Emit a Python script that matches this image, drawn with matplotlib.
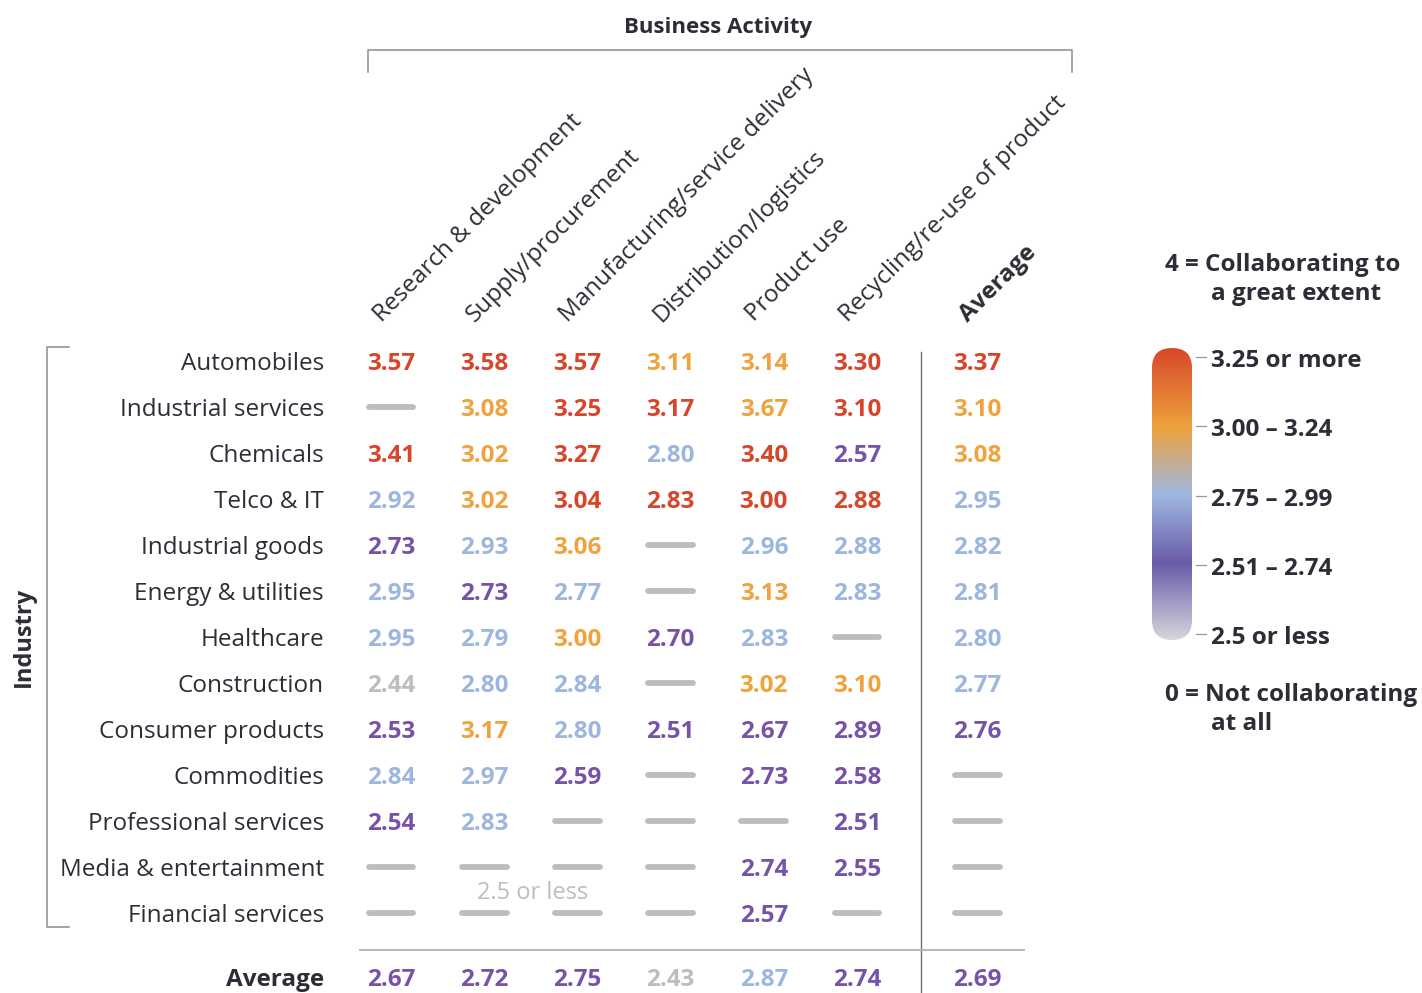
import numpy as np
import matplotlib
matplotlib.use('Agg')
import matplotlib.pyplot as plt
from matplotlib.colors import LinearSegmentedColormap
from matplotlib.patches import FancyBboxPatch

plt.rcParams['font.family'] = ['Open Sans', 'DejaVu Sans']

# Industries (rows) and business activities (columns)
industries = ['Automobiles', 'Industrial services', 'Chemicals', 'Telco & IT',
              'Industrial goods', 'Energy & utilities', 'Healthcare', 'Construction',
              'Consumer products', 'Commodities', 'Professional services',
              'Media & entertainment', 'Financial services']
activities = ['Research & development', 'Supply/procurement',
              'Manufacturing/service delivery', 'Distribution/logistics',
              'Product use', 'Recycling/re-use of product']

nan = np.nan
# mean collaboration score per industry and activity (nan = not enough answers)
scores = [
    [3.57, 3.58, 3.57, 3.11, 3.14, 3.30],
    [nan,  3.08, 3.25, 3.17, 3.67, 3.10],
    [3.41, 3.02, 3.27, 2.80, 3.40, 2.57],
    [2.92, 3.02, 3.04, 2.83, 3.00, 2.88],
    [2.73, 2.93, 3.06, nan,  2.96, 2.88],
    [2.95, 2.73, 2.77, nan,  3.13, 2.83],
    [2.95, 2.79, 3.00, 2.70, 2.83, nan],
    [2.44, 2.80, 2.84, nan,  3.02, 3.10],
    [2.53, 3.17, 2.80, 2.51, 2.67, 2.89],
    [2.84, 2.97, 2.59, nan,  2.73, 2.58],
    [2.54, 2.83, nan,  nan,  nan,  2.51],
    [nan,  nan,  nan,  nan,  2.74, 2.55],
    [nan,  nan,  nan,  nan,  2.57, nan],
]
row_avg = [3.37, 3.10, 3.08, 2.95, 2.82, 2.81, 2.80, 2.77, 2.76, nan, nan, nan, nan]
col_avg = [2.67, 2.72, 2.75, 2.43, 2.87, 2.74]
total_avg = 2.69

# colour band of each printed value: r=3.25+, o=3.00-3.24, b=2.75-2.99, p=2.51-2.74, g=2.5-
bands = [
    'rrroorr',
    '-orroro',
    'rorbrpo',
    'borrrrb',
    'pbo-bbb',
    'bpb-obb',
    'bbopb-b',
    'gbb-oob',
    'pobpppp',
    'bbp-pp-',
    'pb---p-',
    '----pp-',
    '----p--',
]
avg_bands = 'pppgbpp'

legend_labels = ['3.25 or more', '3.00 \u2013 3.24', '2.75 \u2013 2.99',
                 '2.51 \u2013 2.74', '2.5 or less']

band_colors = {'r': '#D8452B', 'o': '#F0A23C', 'b': '#9DB6E0',
               'p': '#7653A8', 'g': '#BDBDC1'}
dash_color = '#BDBDC1'
ink = '#2D2D37'
rule = '#8C8C90'

W, H = 1422, 993
fig = plt.figure(figsize=(W / 100, H / 100), dpi=100)

# grid axes: x = column index, y = row index
ax = fig.add_axes([0, 0, 1, 1])
col_step, row_step = 93.2, 46.0
x0_px, y0_px = 391, 361
ax.set_xlim(-x0_px / col_step, (W - x0_px) / col_step)
ax.set_ylim((H - y0_px) / row_step, -y0_px / row_step)
ax.axis('off')

n_act = len(activities)
xpos = list(range(n_act)) + [n_act + 0.29]
avg_row_y = len(industries) + 0.40
dy = 0.06  # text centre sits a little above the visual middle


def cell(x, y, val, band):
    if np.isnan(val):
        ax.plot([x - 0.24, x + 0.24], [y, y], color=dash_color, lw=4.2,
                solid_capstyle='round')
    else:
        ax.text(x, y + dy, f'{val:.2f}', ha='center', va='center', fontsize=17.5,
                fontweight='bold', color=band_colors[band])


for i, name in enumerate(industries):
    ax.text(-0.72, i + dy, name, ha='right', va='center', fontsize=17.5, color=ink)
    vals = scores[i] + [row_avg[i]]
    for j, v in enumerate(vals):
        cell(xpos[j], i, v, bands[i][j])

ax.text(-0.72, avg_row_y + dy, 'Average', ha='right', va='center', fontsize=17.5,
        fontweight='bold', color=ink)
for j, v in enumerate(col_avg + [total_avg]):
    cell(xpos[j], avg_row_y, v, avg_bands[j])

# rotated column headers
for j, name in enumerate(activities + ['Average']):
    ax.text(xpos[j] - 0.1, -0.84, name, rotation=45, rotation_mode='anchor',
            ha='left', va='baseline', fontsize=17.5, color=ink,
            fontweight='bold' if name == 'Average' else 'normal')

ax.text(1.52, 11.5 + dy, '2.5 or less', ha='center', va='center', fontsize=17,
        color=dash_color)

# separators between the table and the averages
ax.plot([xpos[-1] - 0.6] * 2, [-0.2, avg_row_y + 0.7], color='#6E6E72', lw=1)
ax.plot([-0.33, xpos[-1] + 0.5], [12.8, 12.8], color='#B0B0B4', lw=1.3)

# overlay axes in pixel units for brackets and legend
ov = fig.add_axes([0, 0, 1, 1])
ov.set_xlim(0, W)
ov.set_ylim(H, 0)
ov.axis('off')

ov.plot([368, 368, 1072, 1072], [72, 50, 50, 72], color=rule, lw=1.1)
ov.text(718, 28, 'Business Activity', ha='center', va='center', fontsize=16,
        fontweight='bold', color=ink)
ov.plot([69, 47, 47, 69], [347, 347, 927, 927], color=rule, lw=1.1)
ov.text(24, 637, 'Industry', ha='center', va='center', rotation=90,
        fontsize=17, fontweight='bold', color=ink)

# legend: rounded gradient bar
for x, y, s in [(1165, 265, '4 = Collaborating to'), (1211, 294, 'a great extent'),
                (1165, 695, '0 = Not collaborating'), (1211, 724, 'at all')]:
    ov.text(x, y, s, ha='left', va='center', fontsize=17.5,
            fontweight='bold', color=ink)

grad = LinearSegmentedColormap.from_list('collab', [
    (0.0, '#D6D6DC'), (0.26, '#6A5BA9'), (0.5, '#9EB8E0'),
    (0.73, '#EEA23E'), (1.0, '#D8482A')])
bar_x0, bar_x1, bar_top, bar_bot = 1152, 1192, 348, 640
img = ov.imshow(np.linspace(1, 0, 300).reshape(-1, 1), cmap=grad, aspect='auto',
                extent=(bar_x0, bar_x1, bar_bot, bar_top), zorder=2)
clip = FancyBboxPatch((bar_x0, bar_top), bar_x1 - bar_x0, bar_bot - bar_top,
                      boxstyle='round,pad=0,rounding_size=20',
                      transform=ov.transData, facecolor='none', edgecolor='none')
ov.add_patch(clip)
img.set_clip_path(clip)
ov.set_xlim(0, W)
ov.set_ylim(H, 0)

tick_y = np.linspace(357, 634, len(legend_labels))
for ty, lab in zip(tick_y, legend_labels):
    ov.plot([1196, 1206], [ty, ty], color='#9A9A9E', lw=0.9)
    ov.text(1211, ty + 4, lab, ha='left', va='center', fontsize=17.5,
            fontweight='bold', color=ink)

fig.savefig('out.png', dpi=100)
